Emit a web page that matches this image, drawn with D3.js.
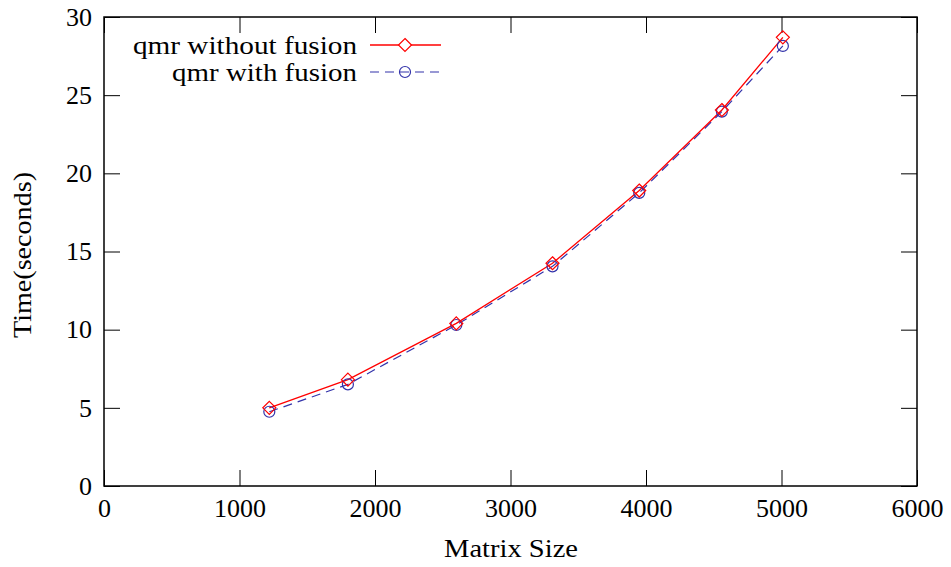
<!DOCTYPE html>
<html><head><meta charset="utf-8">
<script src="https://cdn.jsdelivr.net/npm/d3@7"></script>
<style>body{margin:0;background:#fff}</style>
</head><body>
<svg id="c" width="951" height="567"></svg>
<script>
const sizes = [1220, 1800, 2600, 3310, 3950, 4560, 5010];
const withoutFusion = [5.0, 6.8, 10.4, 14.25, 18.9, 24.05, 28.7];
const withFusion = [4.75, 6.5, 10.3, 14.05, 18.75, 23.95, 28.15];
const xTicks = [0, 1000, 2000, 3000, 4000, 5000, 6000];
const yTicks = [0, 5, 10, 15, 20, 25, 30];
const seriesNames = ["qmr without fusion", "qmr with fusion"];

(function () {
const svg = d3.select("#c");
const L = 104, R = 917, T = 17, B = 486;
const x = d3.scaleLinear().domain([0, 6000]).range([L, R]);
const y = d3.scaleLinear().domain([0, 30]).range([B, T]);
const font = "Liberation Serif, DejaVu Serif, serif";
const fs = 26, tl = 16;

const g = svg.append("g").style("font-family", font).attr("font-size", fs).attr("fill", "#000");

const axBottom = g.append("g").attr("transform", `translate(0,${B})`)
  .call(d3.axisBottom(x).tickValues(xTicks).tickFormat(d3.format("d")).tickSizeInner(-tl).tickSizeOuter(0).tickPadding(13));
const axTop = g.append("g").attr("transform", `translate(0,${T})`)
  .call(d3.axisTop(x).tickValues(xTicks).tickSizeInner(-tl).tickSizeOuter(0).tickFormat(""));
const axLeft = g.append("g").attr("transform", `translate(${L},0)`)
  .call(d3.axisLeft(y).tickValues(yTicks).tickFormat(d3.format("d")).tickSizeInner(-tl).tickSizeOuter(0).tickPadding(12));
const axRight = g.append("g").attr("transform", `translate(${R},0)`)
  .call(d3.axisRight(y).tickValues(yTicks).tickSizeInner(-tl).tickSizeOuter(0).tickFormat(""));
[axBottom, axTop, axLeft, axRight].forEach(a => {
  a.select(".domain").remove();
  a.attr("font-family", null).attr("font-size", null);
  a.selectAll("line").attr("stroke", "#000").attr("stroke-width", 1);
  a.selectAll("text").style("font-family", font).attr("font-size", fs).attr("fill", "#000");
});

g.append("rect").attr("x", L).attr("y", T).attr("width", R - L).attr("height", B - T)
  .attr("fill", "none").attr("stroke", "#000").attr("stroke-width", 1.5);

g.append("text").attr("x", 511).attr("y", 557).attr("text-anchor", "middle")
  .attr("textLength", 134).attr("lengthAdjust", "spacingAndGlyphs").text("Matrix Size");
g.append("text").attr("transform", `translate(31,255) rotate(-90)`)
  .attr("text-anchor", "middle").attr("textLength", 166).attr("lengthAdjust", "spacingAndGlyphs").text("Time(seconds)");

const red = "#ff0000", blue = "#3333aa";
const line = d3.line().x(d => x(d[0])).y(d => y(d[1]));
const d1 = sizes.map((s, i) => [s, withoutFusion[i]]);
const d2 = sizes.map((s, i) => [s, withFusion[i]]);

g.append("path").datum(d2).attr("d", line).attr("fill", "none").attr("stroke", blue)
  .attr("stroke-width", 1.2).attr("stroke-dasharray", "9,6");
g.append("path").datum(d1).attr("d", line).attr("fill", "none").attr("stroke", red).attr("stroke-width", 1.3);

const diamond = (cx, cy, r) => `M${cx},${cy - r}L${cx + r},${cy}L${cx},${cy + r}L${cx - r},${cy}Z`;
g.selectAll(".c2").data(d2).enter().append("circle")
  .attr("cx", d => x(d[0])).attr("cy", d => y(d[1])).attr("r", 5.5)
  .attr("fill", "none").attr("stroke", blue).attr("stroke-width", 1.2);
g.selectAll(".d1").data(d1).enter().append("path")
  .attr("d", d => diamond(x(d[0]), y(d[1]), 6.5))
  .attr("fill", "none").attr("stroke", red).attr("stroke-width", 1.2);

const ly = [45, 72];
const lw = [224, 185];
seriesNames.forEach((n, i) => {
  g.append("text").attr("x", 357 - lw[i]).attr("y", ly[i]).attr("dy", "0.35em")
    .attr("textLength", lw[i]).attr("lengthAdjust", "spacingAndGlyphs").text(n);
});
g.append("line").attr("x1", 370).attr("x2", 441).attr("y1", ly[0]).attr("y2", ly[0]).attr("stroke", red).attr("stroke-width", 1.3);
g.append("path").attr("d", diamond(405, ly[0], 6.5)).attr("fill", "#fff").attr("stroke", red).attr("stroke-width", 1.2);
g.append("line").attr("x1", 370).attr("x2", 441).attr("y1", ly[1]).attr("y2", ly[1]).attr("stroke", blue)
  .attr("stroke-width", 1.2).attr("stroke-dasharray", "9,6");
g.append("circle").attr("cx", 405).attr("cy", ly[1]).attr("r", 5.5).attr("fill", "none").attr("stroke", blue).attr("stroke-width", 1.2);
})();
</script>
</body></html>
